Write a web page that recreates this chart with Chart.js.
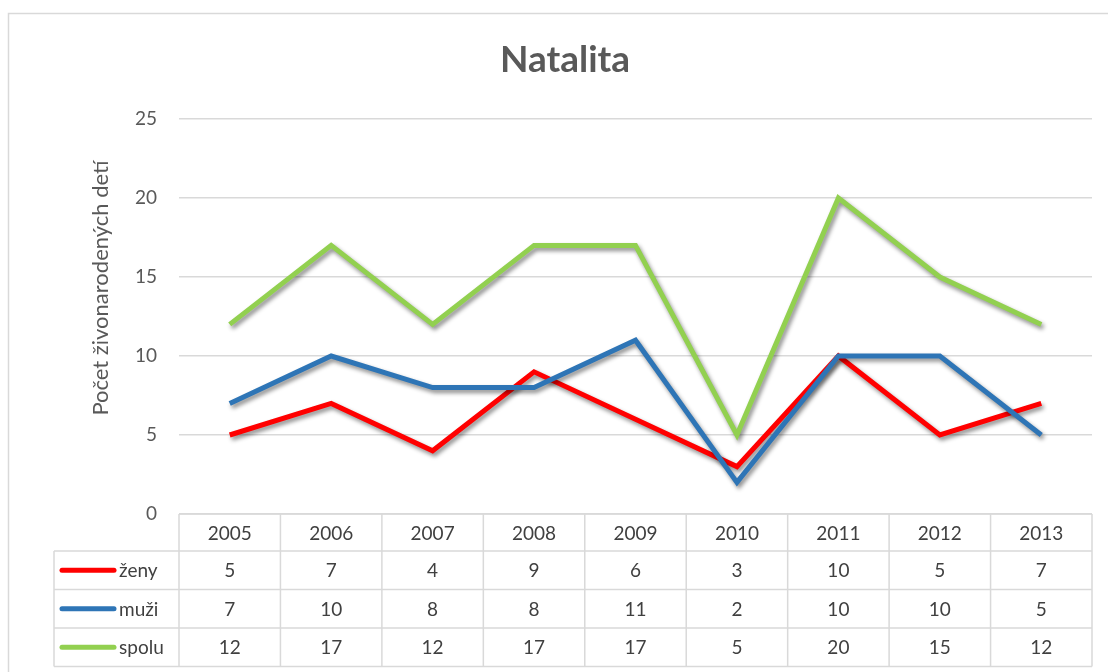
<!DOCTYPE html>
<html>
<head>
<meta charset="utf-8">
<script src="https://cdn.jsdelivr.net/npm/chart.js@4.4.0/dist/chart.umd.min.js"></script>
<style>
  html, body { margin: 0; padding: 0; background: #fff; }
  #wrap { position: relative; width: 1108px; height: 672px; }
</style>
</head>
<body>
<div id="wrap"><canvas id="natalita"></canvas></div>
<script>
// data
const years = ['2005', '2006', '2007', '2008', '2009', '2010', '2011', '2012', '2013'];
const zeny = [5, 7, 4, 9, 6, 3, 10, 5, 7];
const muzi = [7, 10, 8, 8, 11, 2, 10, 10, 5];
const spolu = [12, 17, 12, 17, 17, 5, 20, 15, 12];
const seriesNames = ['ženy', 'muži', 'spolu'];
const seriesColors = ['#FF0000', '#2E75B6', '#92D050'];
const yMax = 25;
const yStep = 5;

const FONT = 'Lato, "Open Sans", sans-serif';
const gridCol = '#d9d9d9';

// frame round the whole chart
const framePlugin = {
  id: 'frame',
  beforeDraw(chart) {
    const c = chart.ctx;
    c.save();
    c.strokeStyle = gridCol;
    c.lineWidth = 1.5;
    c.beginPath();
    c.moveTo(8.5, 672);
    c.lineTo(8.5, 13.5);
    c.lineTo(1108, 13.5);
    c.stroke();
    c.restore();
  }
};

// soft shadow under each line, like the excel one
const shadowPlugin = {
  id: 'lineShadow',
  beforeDatasetDraw(chart) {
    const c = chart.ctx;
    c.save();
    c.shadowColor = 'rgba(0,0,0,0.45)';
    c.shadowBlur = 4;
    c.shadowOffsetX = 2;
    c.shadowOffsetY = 3;
  },
  afterDatasetDraw(chart) {
    chart.ctx.restore();
  }
};

// y title + data table under the plot
const tablePlugin = {
  id: 'dataTable',
  afterDraw(chart) {
    const c = chart.ctx;
    const area = chart.chartArea;
    const xs = chart.scales.x;
    const n = years.length;
    const colW = (area.right - area.left) / n;
    const top = area.bottom;
    const headH = 37;
    const rowH = 38.5;
    const tableLeft = 54;
    const rows = [zeny, muzi, spolu];

    c.save();
    // y axis title
    c.fillStyle = '#595959';
    c.font = '22px ' + FONT;
    c.textAlign = 'center';
    c.textBaseline = 'middle';
    c.translate(101, 288);
    c.rotate(-Math.PI / 2);
    c.fillText('Počet živonarodených detí', 0, 0);
    c.restore();

    c.save();
    c.strokeStyle = gridCol;
    c.lineWidth = 1.5;
    c.beginPath();
    c.moveTo(area.left, top);
    c.lineTo(area.right, top);
    for (let r = 0; r <= rows.length; r++) {
      const y = top + headH + r * rowH;
      c.moveTo(tableLeft, y);
      c.lineTo(area.right, y);
    }
    const bottom = top + headH + rows.length * rowH;
    for (let i = 0; i <= n; i++) {
      const x = area.left + i * colW;
      c.moveTo(x, top);
      c.lineTo(x, bottom);
    }
    c.moveTo(tableLeft, top + headH);
    c.lineTo(tableLeft, bottom);
    c.stroke();

    c.font = '19px ' + FONT;
    c.fillStyle = '#404040';
    c.textAlign = 'center';
    c.textBaseline = 'middle';
    years.forEach((yr, i) => {
      c.fillText(yr, xs.getPixelForValue(i), top + headH / 2 + 1);
    });
    rows.forEach((vals, r) => {
      const cy = top + headH + r * rowH + rowH / 2 + 1;
      vals.forEach((v, i) => {
        c.fillText(String(v), xs.getPixelForValue(i), cy);
      });
      // legend key
      c.save();
      c.strokeStyle = seriesColors[r];
      c.lineWidth = 5;
      c.lineCap = 'round';
      c.beginPath();
      c.moveTo(62, cy - 1);
      c.lineTo(114, cy - 1);
      c.stroke();
      c.restore();
      c.textAlign = 'left';
      c.fillText(seriesNames[r], 119, cy);
      c.textAlign = 'center';
    });
    c.restore();
  }
};

const ctx = document.getElementById('natalita').getContext('2d');
new Chart(ctx, {
  type: 'line',
  data: {
    labels: years,
    datasets: [zeny, muzi, spolu].map((d, i) => ({
      label: seriesNames[i],
      data: d,
      borderColor: seriesColors[i],
      backgroundColor: seriesColors[i],
      borderWidth: 5,
      pointRadius: 0,
      tension: 0,
      fill: false,
      order: 3 - i
    }))
  },
  options: {
    responsive: true,
    maintainAspectRatio: false,
    animation: false,
    layout: { padding: { left: 38, right: 16, top: 0, bottom: 158 } },
    plugins: {
      legend: { display: false },
      tooltip: { enabled: false },
      title: {
        display: true,
        text: 'Natalita',
        color: '#595959',
        font: { family: FONT, size: 37, weight: 'bold' },
        padding: { top: 38, bottom: 36.6 }
      }
    },
    scales: {
      x: { display: false, offset: true },
      y: {
        min: 0,
        max: yMax,
        ticks: {
          stepSize: yStep,
          padding: 22,
          color: '#595959',
          font: { family: FONT, size: 19 }
        },
        grid: { color: gridCol, lineWidth: 1.5, drawTicks: false },
        border: { display: false },
        afterFit(scale) { scale.width = 141; }
      }
    }
  },
  plugins: [framePlugin, shadowPlugin, tablePlugin]
});
</script>
</body>
</html>
